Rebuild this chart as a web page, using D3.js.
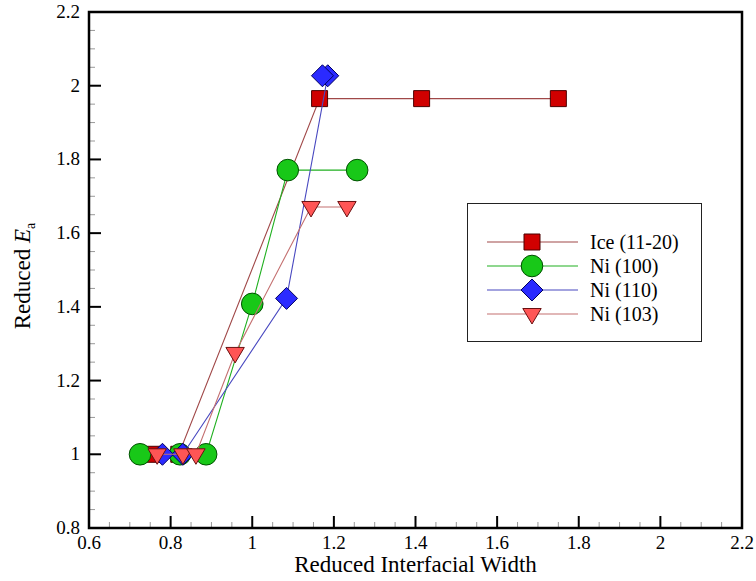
<!DOCTYPE html>
<html>
<head>
<meta charset="utf-8">
<script src="https://cdn.jsdelivr.net/npm/d3@7"></script>
<style>
  html, body { margin: 0; padding: 0; background: #fff; }
</style>
</head>
<body>
<svg id="chart" width="756" height="581"></svg>
<script>
// Reduced activation energy versus reduced interfacial width
const iceX   = [0.76, 0.82, 1.165, 1.415, 1.75];
const iceY   = [1.0, 1.0, 1.965, 1.965, 1.965];
const ni100X = [0.725, 0.823, 0.887, 1.0, 1.087, 1.257];
const ni100Y = [1.0, 1.0, 1.0, 1.408, 1.771, 1.771];
const ni110X = [0.78, 0.83, 1.084, 1.185, 1.172];
const ni110Y = [1.0, 1.0, 1.423, 2.027, 2.027];
const ni103X = [0.767, 0.83, 0.862, 0.958, 1.144, 1.232];
const ni103Y = [1.0, 1.0, 1.0, 1.275, 1.671, 1.671];

const seriesNames = ["Ice (11-20)", "Ni (100)", "Ni (110)", "Ni (103)"];
const xTicks = [0.6, 0.8, 1.0, 1.2, 1.4, 1.6, 1.8, 2.0, 2.2];
const yTicks = [0.8, 1.0, 1.2, 1.4, 1.6, 1.8, 2.0, 2.2];

const series = [
  { name: seriesNames[0], x: iceX,   y: iceY,   shape: "square",   fill: "#d00000", stroke: "#4a0000", line: "#a04848" },
  { name: seriesNames[1], x: ni100X, y: ni100Y, shape: "circle",   fill: "#18c818", stroke: "#005000", line: "#20b020" },
  { name: seriesNames[2], x: ni110X, y: ni110Y, shape: "diamond",  fill: "#2a2aff", stroke: "#000060", line: "#4848c0" },
  { name: seriesNames[3], x: ni103X, y: ni103Y, shape: "triangle", fill: "#ff5555", stroke: "#6a1010", line: "#c47070" }
];

const SERIF = "'Liberation Serif', 'Times New Roman', Times, serif";
const svg = d3.select("#chart").attr("font-family", SERIF);
const plot = { left: 89, right: 742, top: 12, bottom: 528 };

const x = d3.scaleLinear().domain([0.6, 2.2]).range([plot.left, plot.right]);
const y = d3.scaleLinear().domain([0.8, 2.2]).range([plot.bottom, plot.top]);

const fmt = v => String(+v.toFixed(2));

// marker path generators centred on 0,0
function markerPath(shape) {
  switch (shape) {
    case "square":   return "M-8,-8H8V8H-8Z";
    case "circle":   return d3.arc()({ innerRadius: 0, outerRadius: 10.8, startAngle: 0, endAngle: 2 * Math.PI });
    case "diamond":  return "M0,-11L11,0L0,11L-11,0Z";
    case "triangle": return "M-9.2,-5.5L9.2,-5.5L0,10Z";
  }
}

// minor ticks (drawn inward), three between each pair of labelled ticks
const xMinor = d3.range(0.65, 2.2, 0.05).filter((d, i) => (i + 1) % 4 !== 0);
const yMinor = d3.range(0.85, 2.2, 0.05).filter((d, i) => (i + 1) % 4 !== 0);
const axes = svg.append("g");
axes.selectAll(".xminor").data(xMinor).join("line")
  .attr("x1", d => x(d)).attr("x2", d => x(d))
  .attr("y1", plot.bottom).attr("y2", plot.bottom - 6)
  .attr("stroke", "#999").attr("stroke-width", 1);
axes.selectAll(".yminor").data(yMinor).join("line")
  .attr("x1", plot.left).attr("x2", plot.left + 6)
  .attr("y1", d => y(d)).attr("y2", d => y(d))
  .attr("stroke", "#999").attr("stroke-width", 1);

// major ticks
axes.selectAll(".xmajor").data(xTicks).join("line")
  .attr("x1", d => x(d)).attr("x2", d => x(d))
  .attr("y1", plot.bottom).attr("y2", plot.bottom - 12)
  .attr("stroke", "#000").attr("stroke-width", 2);
axes.selectAll(".ymajor").data(yTicks).join("line")
  .attr("x1", plot.left).attr("x2", plot.left + 12)
  .attr("y1", d => y(d)).attr("y2", d => y(d))
  .attr("stroke", "#000").attr("stroke-width", 2);

// tick labels
axes.selectAll(".xlab").data(xTicks).join("text")
  .attr("x", d => x(d)).attr("y", plot.bottom + 21)
  .attr("text-anchor", "middle").attr("font-size", 19)
  .attr("font-family", SERIF)
  .text(fmt);
axes.selectAll(".ylab").data(yTicks).join("text")
  .attr("x", plot.left - 9).attr("y", d => y(d) + 6)
  .attr("text-anchor", "end").attr("font-size", 19)
  .attr("font-family", SERIF)
  .text(fmt);

// axis titles
svg.append("text")
  .attr("x", (plot.left + plot.right) / 2).attr("y", 572)
  .attr("text-anchor", "middle").attr("font-size", 23)
  .attr("font-family", SERIF)
  .text("Reduced Interfacial Width");
const yt = svg.append("text")
  .attr("transform", `translate(30,${(plot.top + plot.bottom) / 2 + 6}) rotate(-90)`)
  .attr("text-anchor", "middle").attr("font-size", 23)
  .attr("font-family", SERIF);
yt.append("tspan").text("Reduced ");
yt.append("tspan").attr("font-style", "italic").text("E");
yt.append("tspan").attr("font-size", 14).attr("dy", 5).text("a");

// series lines and markers
const line = d3.line().x(d => x(d[0])).y(d => y(d[1]));
const layer = svg.append("g");
series.forEach(s => {
  const pts = s.x.map((v, i) => [v, s.y[i]]);
  layer.append("path").datum(pts)
    .attr("d", line).attr("fill", "none")
    .attr("stroke", s.line).attr("stroke-width", 1.1);
  layer.selectAll(null).data(pts).join("path")
    .attr("transform", d => `translate(${x(d[0])},${y(d[1])})`)
    .attr("d", markerPath(s.shape))
    .attr("fill", s.fill).attr("stroke", s.stroke).attr("stroke-width", 1);
});

// plot frame
svg.append("rect")
  .attr("x", plot.left).attr("y", plot.top)
  .attr("width", plot.right - plot.left).attr("height", plot.bottom - plot.top)
  .attr("fill", "none").attr("stroke", "#000").attr("stroke-width", 2.5);

// legend
const lg = svg.append("g");
lg.append("rect").attr("x", 467.5).attr("y", 203.5).attr("width", 234).attr("height", 138)
  .attr("fill", "#fff").attr("stroke", "#222").attr("stroke-width", 1);
const rowY = [242, 266, 290, 314];
series.forEach((s, i) => {
  lg.append("line").attr("x1", 487).attr("x2", 578)
    .attr("y1", rowY[i]).attr("y2", rowY[i])
    .attr("stroke", s.line).attr("stroke-width", 1.1);
  lg.append("path").attr("transform", `translate(532,${rowY[i]})`)
    .attr("d", markerPath(s.shape))
    .attr("fill", s.fill).attr("stroke", s.stroke).attr("stroke-width", 1);
  lg.append("text").attr("x", 590).attr("y", rowY[i] + 7)
    .attr("font-size", 20).attr("font-family", SERIF).text(s.name);
});
</script>
</body>
</html>
